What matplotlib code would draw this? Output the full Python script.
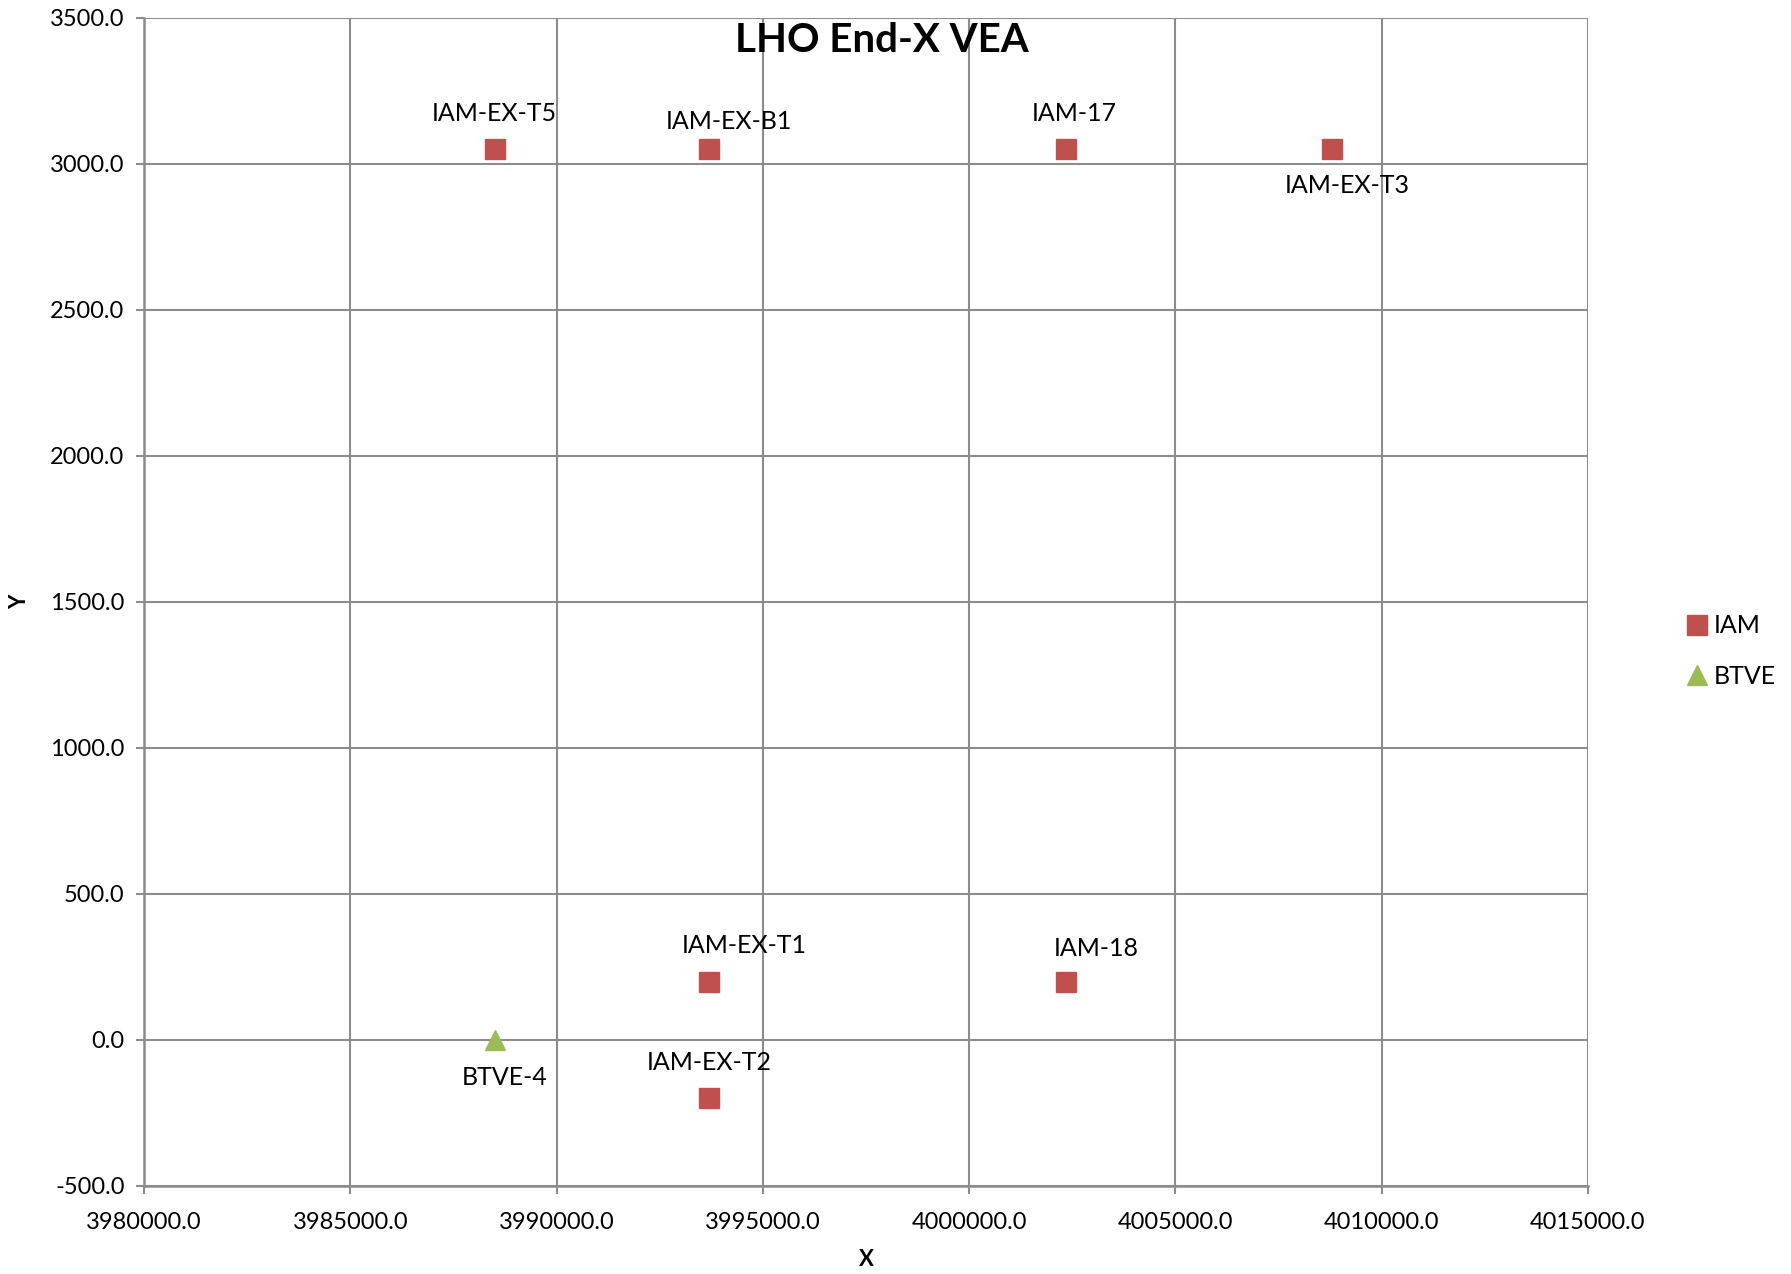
import matplotlib
matplotlib.use("Agg")
import matplotlib.pyplot as plt
from matplotlib.ticker import MultipleLocator, FormatStrFormatter

plt.rcParams['font.family'] = ['Lato', 'DejaVu Sans']

# Data
iam_labels = ["IAM-EX-T5", "IAM-EX-B1", "IAM-17", "IAM-EX-T3",
              "IAM-EX-T1", "IAM-18", "IAM-EX-T2"]
iam_x = [3988500, 3993700, 4002350, 4008800, 3993700, 4002350, 3993700]
iam_y = [3050, 3050, 3050, 3050, 200, 200, -200]

btve_labels = ["BTVE-4"]
btve_x = [3988500]
btve_y = [0]

title = "LHO End-X VEA"
x_label = "X"
y_label = "Y"

# label offsets (points)
iam_offsets = [(0, 26), (14, 20), (6, 26), (11, -26), (25, 26), (22, 24), (0, 26)]
btve_offsets = [(7, -27)]

fig = plt.figure(figsize=(17.91, 12.74), dpi=100)
ax = fig.add_axes([144/1791, 1 - 1186/1274, (1588-144)/1791, (1186-18)/1274])

red = "#C0504D"
green = "#9BBB59"
grid_c = "#8C8C8C"

ax.plot(iam_x, iam_y, linestyle="none", marker="s", markersize=14.5,
        color=red, markeredgecolor=red, label="IAM", zorder=3)
ax.plot(btve_x, btve_y, linestyle="none", marker="^", markersize=14,
        color=green, markeredgecolor=green, label="BTVE", zorder=3)

for lbl, x, y, off in zip(iam_labels, iam_x, iam_y, iam_offsets):
    ax.annotate(lbl, (x, y), xytext=off, textcoords="offset points",
                ha="center", va="center", fontsize=18)
for lbl, x, y, off in zip(btve_labels, btve_x, btve_y, btve_offsets):
    ax.annotate(lbl, (x, y), xytext=off, textcoords="offset points",
                ha="center", va="center", fontsize=18)

ax.set_xlim(3980000, 4015000)
ax.set_ylim(-500, 3500)
ax.xaxis.set_major_locator(MultipleLocator(5000))
ax.yaxis.set_major_locator(MultipleLocator(500))
ax.xaxis.set_major_formatter(FormatStrFormatter("%.1f"))
ax.yaxis.set_major_formatter(FormatStrFormatter("%.1f"))
ax.tick_params(axis="both", labelsize=17, length=6, width=1.5, color=grid_c,
               direction="out")
ax.tick_params(axis="x", pad=13)
ax.tick_params(axis="y", pad=8)

ax.grid(True, color=grid_c, linewidth=1.5)
ax.set_axisbelow(True)
for s in ["top", "right"]:
    ax.spines[s].set_visible(False)
for s in ["left", "bottom"]:
    ax.spines[s].set_color(grid_c)
    ax.spines[s].set_linewidth(1.8)

fig.text(882/1791, 1 - 40/1274, title, ha="center", va="center",
         fontsize=29, fontweight="bold")
fig.text(866/1791, 1 - 1260/1274, x_label, ha="center", va="center",
         fontsize=16, fontweight="bold")
fig.text(20/1791, 1 - 602/1274, y_label, ha="center", va="center",
         fontsize=16, fontweight="bold", rotation=90)

fig.legend(loc="center left", bbox_to_anchor=(1672/1791, 1 - 651/1274),
           frameon=False, fontsize=18, handletextpad=0.05, labelspacing=1.1,
           handlelength=1.2, borderaxespad=0)

fig.savefig("out.png", dpi=100)
